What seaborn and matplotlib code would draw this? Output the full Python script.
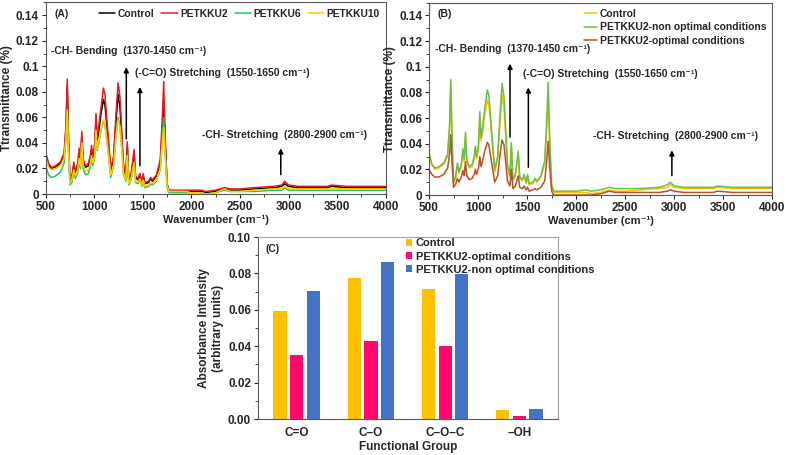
import numpy as np
import pandas as pd
import matplotlib.pyplot as plt
import matplotlib.ticker as mticker
import seaborn as sns

sns.set_style("ticks")
plt.rcParams['font.family'] = ['Liberation Sans', 'DejaVu Sans']
plt.rcParams['font.weight'] = 'bold'
plt.rcParams['axes.labelweight'] = 'bold'

# wavenumber key points (cm-1)
wn = [500, 530, 560, 600, 650, 690, 710, 722, 735, 750,
      770, 790, 805, 830, 845, 858, 872, 885, 910, 940,
      960, 972, 985, 1005, 1018, 1030, 1045, 1070, 1095, 1110,
      1125, 1145, 1170, 1200, 1225, 1245, 1265, 1285, 1300, 1325,
      1340, 1355, 1380, 1410, 1425, 1450, 1470, 1490, 1505, 1520,
      1560, 1580, 1600, 1640, 1680, 1700, 1715, 1730, 1750, 1770,
      1850, 1950, 2000, 2100, 2150, 2250, 2340, 2400, 2500, 2650,
      2850, 2930, 2960, 3000, 3100, 3400, 3440, 3600, 3800, 4000]

control = [0.031, 0.023, 0.020, 0.021, 0.024, 0.030, 0.052, 0.085, 0.042, 0.009,
           0.013, 0.023, 0.017, 0.022, 0.033, 0.026, 0.045, 0.026, 0.021, 0.022,
           0.028, 0.035, 0.028, 0.037, 0.058, 0.042, 0.048, 0.063, 0.074, 0.070,
           0.058, 0.040, 0.018, 0.028, 0.058, 0.078, 0.068, 0.042, 0.022, 0.014,
           0.037, 0.011, 0.015, 0.031, 0.013, 0.011, 0.015, 0.009, 0.014, 0.008,
           0.009, 0.012, 0.010, 0.014, 0.024, 0.052, 0.074, 0.040, 0.007, 0.002,
           0.002, 0.002, 0.002, 0.002, 0.001, 0.002, 0.004, 0.003, 0.003, 0.004,
           0.005, 0.006, 0.008, 0.006, 0.005, 0.005, 0.006, 0.005, 0.005, 0.005]

petkku2 = [0.033, 0.024, 0.021, 0.022, 0.025, 0.032, 0.055, 0.090, 0.045, 0.010,
           0.014, 0.025, 0.018, 0.024, 0.036, 0.028, 0.049, 0.028, 0.022, 0.024,
           0.030, 0.038, 0.030, 0.040, 0.063, 0.045, 0.052, 0.068, 0.083, 0.078,
           0.063, 0.044, 0.020, 0.030, 0.064, 0.087, 0.076, 0.046, 0.024, 0.015,
           0.041, 0.012, 0.016, 0.035, 0.014, 0.012, 0.016, 0.010, 0.016, 0.009,
           0.010, 0.013, 0.011, 0.015, 0.027, 0.058, 0.088, 0.045, 0.008, 0.003,
           0.003, 0.003, 0.003, 0.003, 0.002, 0.003, 0.005, 0.004, 0.004, 0.005,
           0.006, 0.007, 0.010, 0.007, 0.006, 0.006, 0.007, 0.006, 0.006, 0.006]

petkku6 = [0.022, 0.015, 0.013, 0.014, 0.017, 0.024, 0.045, 0.065, 0.033, 0.007,
           0.009, 0.017, 0.012, 0.017, 0.026, 0.020, 0.038, 0.020, 0.015, 0.016,
           0.022, 0.028, 0.022, 0.029, 0.048, 0.034, 0.039, 0.050, 0.057, 0.054,
           0.045, 0.032, 0.013, 0.022, 0.046, 0.060, 0.053, 0.034, 0.016, 0.010,
           0.030, 0.007, 0.011, 0.024, 0.009, 0.008, 0.011, 0.006, 0.010, 0.005,
           0.006, 0.008, 0.007, 0.010, 0.019, 0.042, 0.060, 0.033, 0.005, 0.001,
           0.001, 0.001, 0.001, 0.001, 0.000, 0.001, 0.003, 0.002, 0.002, 0.002,
           0.003, 0.003, 0.005, 0.003, 0.003, 0.003, 0.003, 0.003, 0.003, 0.003]

petkku10 = [0.028, 0.021, 0.019, 0.020, 0.022, 0.028, 0.045, 0.066, 0.035, 0.008,
            0.011, 0.019, 0.014, 0.019, 0.028, 0.022, 0.040, 0.022, 0.018, 0.019,
            0.024, 0.030, 0.024, 0.031, 0.050, 0.035, 0.040, 0.051, 0.058, 0.055,
            0.045, 0.032, 0.015, 0.023, 0.046, 0.058, 0.052, 0.034, 0.017, 0.011,
            0.030, 0.008, 0.012, 0.025, 0.010, 0.009, 0.012, 0.007, 0.011, 0.006,
            0.007, 0.009, 0.008, 0.011, 0.020, 0.040, 0.052, 0.030, 0.006, 0.002,
            0.002, 0.002, 0.001, 0.001, 0.000, 0.001, 0.004, 0.002, 0.002, 0.003,
            0.004, 0.004, 0.006, 0.004, 0.004, 0.004, 0.004, 0.004, 0.004, 0.004]

non_optimal = [0.033, 0.024, 0.021, 0.022, 0.025, 0.032, 0.055, 0.090, 0.045, 0.010,
               0.014, 0.025, 0.018, 0.024, 0.036, 0.028, 0.049, 0.028, 0.022, 0.024,
               0.030, 0.038, 0.030, 0.040, 0.065, 0.045, 0.052, 0.068, 0.082, 0.078,
               0.063, 0.044, 0.020, 0.030, 0.064, 0.087, 0.076, 0.046, 0.024, 0.015,
               0.041, 0.012, 0.016, 0.034, 0.014, 0.012, 0.016, 0.010, 0.016, 0.009,
               0.010, 0.013, 0.011, 0.015, 0.027, 0.058, 0.088, 0.045, 0.008, 0.003,
               0.003, 0.003, 0.003, 0.004, 0.003, 0.004, 0.006, 0.005, 0.005, 0.005,
               0.006, 0.008, 0.010, 0.007, 0.006, 0.006, 0.007, 0.006, 0.006, 0.006]

optimal = [0.020, 0.016, 0.014, 0.014, 0.016, 0.021, 0.032, 0.047, 0.025, 0.006,
           0.008, 0.013, 0.010, 0.014, 0.019, 0.015, 0.026, 0.015, 0.012, 0.013,
           0.016, 0.020, 0.016, 0.021, 0.030, 0.022, 0.026, 0.035, 0.041, 0.039,
           0.032, 0.022, 0.010, 0.015, 0.032, 0.043, 0.039, 0.023, 0.011, 0.007,
           0.020, 0.005, 0.007, 0.015, 0.006, 0.005, 0.007, 0.004, 0.006, 0.003,
           0.004, 0.005, 0.004, 0.006, 0.011, 0.027, 0.042, 0.022, 0.003, 0.000,
           0.000, 0.000, 0.000, 0.000, 0.000, 0.001, 0.003, 0.002, 0.002, 0.002,
           0.002, 0.003, 0.004, 0.003, 0.002, 0.002, 0.003, 0.002, 0.002, 0.002]

# panel C
groups = ['C=O', 'C\u2013O', 'C\u2013O\u2013C', '\u2013OH']
bar_control = [0.0593, 0.0777, 0.0715, 0.0047]
bar_optimal = [0.0349, 0.0429, 0.0401, 0.0018]
bar_non_optimal = [0.0701, 0.0865, 0.0797, 0.0057]

fig = plt.figure(figsize=(7.86, 4.55), dpi=100)
axA = fig.add_axes([0.0581, 0.5736, 0.4326, 0.421])
axB = fig.add_axes([0.5458, 0.5714, 0.4368, 0.423])
axC = fig.add_axes([0.3282, 0.0791, 0.3818, 0.4])

fs = 8.5
wave_label = 'Wavenumber (cm\u207b\u00b9)'


def style_spectrum(ax):
    ax.set_xlim(500, 4000)
    ax.set_ylim(0, 0.15)
    ax.set_xticks(range(500, 4001, 500))
    ax.set_yticks(np.arange(0, 0.141, 0.02))
    ax.yaxis.set_major_formatter(mticker.FuncFormatter(lambda v, p: '%g' % round(v, 3)))
    ax.xaxis.set_minor_locator(mticker.MultipleLocator(250))
    ax.yaxis.set_minor_locator(mticker.MultipleLocator(0.01))
    ax.tick_params(labelsize=fs, length=3, width=0.8, pad=2)
    ax.tick_params(which='minor', length=2, width=0.6)
    for lab in ax.get_xticklabels() + ax.get_yticklabels():
        lab.set_fontweight('bold')
    for s in ax.spines.values():
        s.set_color('#595959')
        s.set_linewidth(0.8)
    ax.set_xlabel(wave_label, fontsize=8, labelpad=1)
    ax.set_ylabel('Ttransmittance (%)', fontsize=8.5, labelpad=2)


def annotate_bands(ax, a1, a2, a3, t1, t2, t3):
    ap = dict(arrowstyle='-|>', color='black', lw=1.1, mutation_scale=7)
    ax.annotate('', xy=(a1[0], a1[2]), xytext=(a1[0], a1[1]), arrowprops=ap)
    ax.annotate('', xy=(a2[0], a2[2]), xytext=(a2[0], a2[1]), arrowprops=ap)
    ax.annotate('', xy=(a3[0], a3[2]), xytext=(a3[0], a3[1]), arrowprops=ap)
    ax.text(t1[0], t1[1], '-CH- Bending  (1370-1450 cm\u207b\u00b9)', fontsize=7.5,
            fontweight='bold', va='center')
    ax.text(t2[0], t2[1], '(-C=O) Stretching  (1550-1650 cm\u207b\u00b9)', fontsize=7.5,
            fontweight='bold', va='center')
    ax.text(t3[0], t3[1], '-CH- Stretching  (2800-2900 cm\u207b\u00b9)', fontsize=7.5,
            fontweight='bold', va='center')


# (A)
sns.lineplot(x=wn, y=control, ax=axA, color='black', lw=1.1, label='Control')
sns.lineplot(x=wn, y=petkku2, ax=axA, color='#E02020', lw=1.1, label='PETKKU2')
sns.lineplot(x=wn, y=petkku6, ax=axA, color='#22C55E', lw=1.1, label='PETKKU6')
sns.lineplot(x=wn, y=petkku10, ax=axA, color='#FFCC00', lw=1.1, label='PETKKU10')
style_spectrum(axA)
annotate_bands(axA, (1330, 0.041, 0.1015), (1470, 0.020, 0.086), (2920, 0.013, 0.038),
               (560, 0.1117), (1416, 0.0948), (2113, 0.0462))
axA.text(0.025, 0.965, '(A)', transform=axA.transAxes, fontsize=7.5,
         fontweight='bold', va='top')
axA.legend(loc='upper right', ncol=4, frameon=False, handlelength=1.6,
           handletextpad=0.2, columnspacing=0.7, borderaxespad=0.2,
           prop={'weight': 'bold', 'size': 7.4})

# (B)
sns.lineplot(x=wn, y=control, ax=axB, color='#FFC000', lw=1.1, label='Control')
sns.lineplot(x=wn, y=non_optimal, ax=axB, color='#6DBE45', lw=1.1,
             label='PETKKU2-non optimal conditions')
sns.lineplot(x=wn, y=optimal, ax=axB, color='#B5532F', lw=1.1,
             label='PETKKU2-optimal conditions')
style_spectrum(axB)
annotate_bands(axB, (1326, 0.043, 0.1045), (1513, 0.0195, 0.086), (2976, 0.013, 0.037),
               (561, 0.1139), (1456, 0.0944), (2171, 0.0463))
axB.text(0.025, 0.965, '(B)', transform=axB.transAxes, fontsize=7.5,
         fontweight='bold', va='top')
axB.legend(loc='upper right', frameon=False, handlelength=1.3, handletextpad=0.2,
           labelspacing=0.35, borderaxespad=0.2, prop={'weight': 'bold', 'size': 7.5})

# (C)
dfc = pd.DataFrame({
    'group': groups * 3,
    'value': bar_control + bar_optimal + bar_non_optimal,
    'sample': ['Control'] * 4 + ['PETKKU2-optimal conditions'] * 4
              + ['PETKKU2-non optimal conditions'] * 4,
})
sns.barplot(data=dfc, x='group', y='value', hue='sample', ax=axC,
            palette=['#FFC000', '#FF0A6C', '#4472C4'], width=0.67, gap=0.2,
            saturation=1, edgecolor='none')
axC.set_xlim(-0.52, 3.52)
axC.set_ylim(0, 0.10)
axC.set_yticks(np.arange(0, 0.101, 0.02))
axC.yaxis.set_major_formatter(mticker.FormatStrFormatter('%.2f'))
axC.yaxis.set_minor_locator(mticker.MultipleLocator(0.01))
axC.tick_params(labelsize=fs, length=3, width=0.8, pad=2)
axC.tick_params(axis='x', length=0, pad=6)
axC.tick_params(which='minor', length=2, width=0.6)
for lab in axC.get_xticklabels() + axC.get_yticklabels():
    lab.set_fontweight('bold')
for s in axC.spines.values():
    s.set_color('#A6A6A6')
    s.set_linewidth(0.8)
axC.spines['left'].set_color('#595959')
axC.spines['bottom'].set_color('#595959')
axC.set_xlabel('Functional Group', fontsize=8.5, labelpad=1)
axC.set_ylabel('Absorbance Intensity\n(arbitrary units)', fontsize=8.5, labelpad=3)
axC.text(0.025, 0.96, '(C)', transform=axC.transAxes, fontsize=7.5,
         fontweight='bold', va='top')
axC.legend(loc='upper left', bbox_to_anchor=(0.47, 1.03), frameon=False,
           handlelength=0.6, handleheight=0.6, handletextpad=0.3, labelspacing=0.3,
           borderaxespad=0.2, prop={'weight': 'bold', 'size': 8})

fig.savefig('out.png', dpi=100)
